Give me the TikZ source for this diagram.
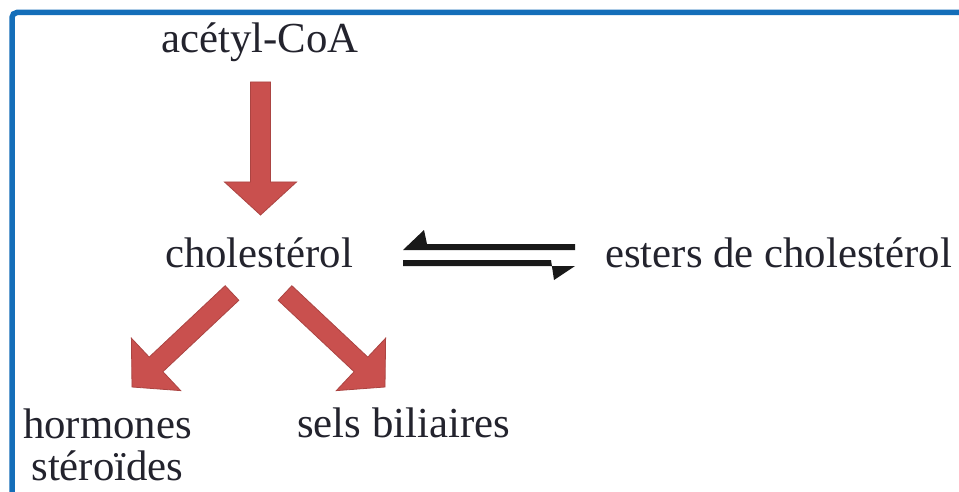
\documentclass[tikz,border=0pt]{standalone}
\usepackage{fontspec}
\setmainfont{Liberation Serif}
\usetikzlibrary{calc}
\definecolor{frameblue}{RGB}{20,110,185}
\definecolor{arrred}{RGB}{201,80,78}
\definecolor{txt}{RGB}{35,35,45}
\tikzset{
  lbl/.style={inner sep=0pt, text=txt, font=\fontsize{42.8}{42}\selectfont},
  blockfill/.style={fill=arrred, draw=arrred!85!black, line width=0.8pt, line join=miter},
  eqfill/.style={fill=black!90, draw=none}
}
% block arrow from #1 (tail centre) to #2 (tip)
\newcommand\blockarr[2]{%
  \coordinate (hb) at ($(#2)!33pt!(#1)$);
  \path[blockfill]
    ($(#1)!10pt!90:(#2)$) -- ($(hb)!10pt!90:(#2)$) -- ($(hb)!36pt!90:(#2)$) --
    (#2) -- ($(hb)!36pt!-90:(#2)$) -- ($(hb)!10pt!-90:(#2)$) --
    ($(#1)!10pt!-90:(#2)$) -- cycle;}
\begin{document}
\begin{tikzpicture}[x=1pt,y=1pt]
\useasboundingbox (0,0) rectangle (959,491);
\fill[white] (0,0) rectangle (959,491);
% frame
\draw[frameblue, line width=5.5pt, rounded corners=5pt] (12,-5) -- (12,478.5) -- (970,478.5);
% labels
\node[lbl, anchor=base] (acoa) at (260,438) {acétyl-CoA};
\node[lbl, anchor=base] (chol) at (259,224) {cholestérol};
\node[lbl, anchor=base west] (est) at (605,224) {esters de cholestérol};
\node[lbl, anchor=base, align=center] (horm) at (107.5,11) {hormones\\stéroïdes};
\node[lbl, anchor=base] (sels) at (403.5,54) {sels biliaires};
% arrow end points
\coordinate (d1) at (260.5,409);
\coordinate (d2) at (260.5,276);
\coordinate (l1) at (232,198);
\coordinate (l2) at (132,104);
\coordinate (r1) at (285,198);
\coordinate (r2) at (385,104);
\blockarr{d1}{d2}
\blockarr{l1}{l2}
\blockarr{r1}{r2}
% equilibrium harpoons
\coordinate (eqL) at (403,236);
\coordinate (eqR) at (575,236);
\fill[eqfill] ($(eqR)+(0,11)$) -- ($(eqL)+(24,11)$) -- ($(eqL)+(21,25)$) -- ($(eqL)+(0,5)$) -- ($(eqR)+(0,5)$) -- cycle;
\fill[eqfill] ($(eqL)+(0,-5)$) -- ($(eqR)+(-24,-5)$) -- ($(eqR)+(-21,-25)$) -- ($(eqR)+(0,-11)$) -- ($(eqL)+(0,-11)$) -- cycle;
\end{tikzpicture}
\end{document}
